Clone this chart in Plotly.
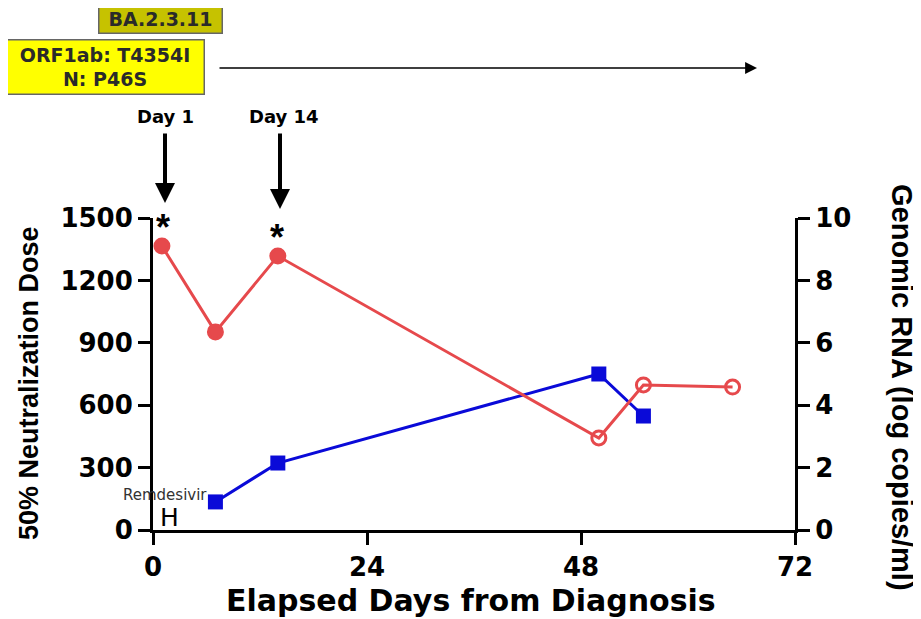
import plotly.graph_objects as go

# Data
nd_days = [7, 14, 50, 55]
nd_values = [135, 322, 750, 548]

rna_days = [1, 7, 14, 50, 55, 65]
rna_values = [9.1, 6.35, 8.78, 2.95, 4.65, 4.58]
rna_symbols = ["circle", "circle", "circle", "circle-open", "circle-open", "circle-open"]

x_ticks = [0, 24, 48, 72]
left_ticks = [0, 300, 600, 900, 1200, 1500]
right_ticks = [0, 2, 4, 6, 8, 10]

RED = "#e6494c"
BLUE = "#0a0ad8"
ARIAL = "Liberation Sans, Arial, sans-serif"
WIDE = "DejaVu Sans, Verdana, sans-serif"

# plot area in page pixels
PL, PR, PT, PB = 153, 795, 218, 530


def px(x):
    return (x - PL) / (PR - PL)


def py(y):
    return (PB - y) / (PB - PT)


fig = go.Figure()

fig.add_trace(go.Scatter(
    x=nd_days, y=nd_values, mode="lines+markers",
    line=dict(color=BLUE, width=3),
    marker=dict(symbol="square", size=15, color=BLUE),
    cliponaxis=False, showlegend=False, yaxis="y"))

fig.add_trace(go.Scatter(
    x=rna_days, y=rna_values, mode="lines+markers",
    line=dict(color=RED, width=3),
    marker=dict(symbol=rna_symbols, size=14, color=RED,
                line=dict(color=RED, width=3)),
    cliponaxis=False, showlegend=False, yaxis="y2"))

axis_common = dict(showline=True, linecolor="black", linewidth=3,
                   ticks="outside", ticklen=12, tickwidth=3, tickcolor="black",
                   showgrid=False, zeroline=False,
                   tickfont=dict(family=WIDE, size=26, color="black", weight="bold"))

# body of the page has an 8px margin, so the figure is made 8px smaller
fig.update_layout(
    width=913, height=611,
    margin=dict(l=PL - 8, r=913 + 8 - PR, t=PT - 8, b=611 + 8 - PB),
    plot_bgcolor="white", paper_bgcolor="white",
    font=dict(family=ARIAL, color="black"),
    xaxis=dict(range=[0, 72], tickvals=x_ticks, **axis_common),
    yaxis=dict(range=[0, 1500], tickvals=left_ticks, **axis_common),
    yaxis2=dict(range=[0, 10], tickvals=right_ticks, overlaying="y", side="right",
                **axis_common),
)

ann = []
# axis titles
ann.append(dict(text="Elapsed Days from Diagnosis", xref="paper", yref="paper",
                x=px(471), y=py(600), xanchor="center", yanchor="middle", showarrow=False,
                font=dict(family=WIDE, size=30, weight="bold")))
ann.append(dict(text="50% Neutralization Dose", xref="paper", yref="paper",
                x=px(29), y=py(383), xanchor="center", yanchor="middle", textangle=-90,
                showarrow=False, font=dict(family=ARIAL, size=27, weight="bold")))
ann.append(dict(text="Genomic RNA (log copies/ml)", xref="paper", yref="paper",
                x=px(902), y=py(387), xanchor="center", yanchor="middle", textangle=90,
                showarrow=False, font=dict(family=ARIAL, size=29, weight="bold")))
# Day labels and arrows
for d, lab_x, head_y, shaft_x in [(1, 165, 203, 165), (14, 284, 209, 280)]:
    ann.append(dict(text=f"Day {d}", x=px(lab_x), y=py(116), xref="paper", yref="paper",
                    xanchor="center", yanchor="middle", showarrow=False,
                    font=dict(family=WIDE, size=18, weight="bold")))
    ann.append(dict(text="", x=px(shaft_x), y=py(head_y), xref="paper", yref="paper",
                    ax=0, ay=132 - head_y,
                    showarrow=True, arrowhead=2, arrowsize=1.0, arrowwidth=4,
                    arrowcolor="black"))
# asterisks
ann.append(dict(text="*", x=px(163), y=py(227), xref="paper", yref="paper", showarrow=False,
                xanchor="center", yanchor="middle",
                font=dict(family=ARIAL, size=36, weight="bold")))
ann.append(dict(text="*", x=px(277), y=py(237), xref="paper", yref="paper", showarrow=False,
                xanchor="center", yanchor="middle",
                font=dict(family=ARIAL, size=36, weight="bold")))
# Remdesivir
ann.append(dict(text="Remdesivir", x=px(165), y=py(495), xref="paper", yref="paper",
                showarrow=False, xanchor="center", yanchor="middle",
                font=dict(family=WIDE, size=15, color="#333333")))
ann.append(dict(text="H", x=px(169), y=py(517), xref="paper", yref="paper",
                showarrow=False, xanchor="center", yanchor="middle",
                font=dict(family=WIDE, size=25, color="black")))
# boxes
ann.append(dict(text="<b>BA.2.3.11</b>", xref="paper", yref="paper", x=px(160), y=py(18),
                xanchor="center", yanchor="middle",
                showarrow=False, bgcolor="#c6c200", bordercolor="#666666", borderwidth=1.5,
                width=120, height=26, font=dict(family=WIDE, size=19, color="#2a2a2a")))
ann.append(dict(text="<b>ORF1ab: T4354I<br>N: P46S</b>", xref="paper", yref="paper",
                x=px(104.5), y=py(67.5), xanchor="center", yanchor="middle",
                showarrow=False, bgcolor="#ffff00",
                bordercolor="#666666", borderwidth=1.5,
                width=195, height=51, font=dict(family=WIDE, size=19, color="#2a2a2a")))
# horizontal arrow
ann.append(dict(text="", x=px(757), y=py(68), xref="paper", yref="paper",
                ax=218 - 757, ay=0,
                showarrow=True, arrowhead=2, arrowsize=1.7, arrowwidth=1.4,
                arrowcolor="black"))

fig.update_layout(annotations=ann)
fig.write_html("out.html")
